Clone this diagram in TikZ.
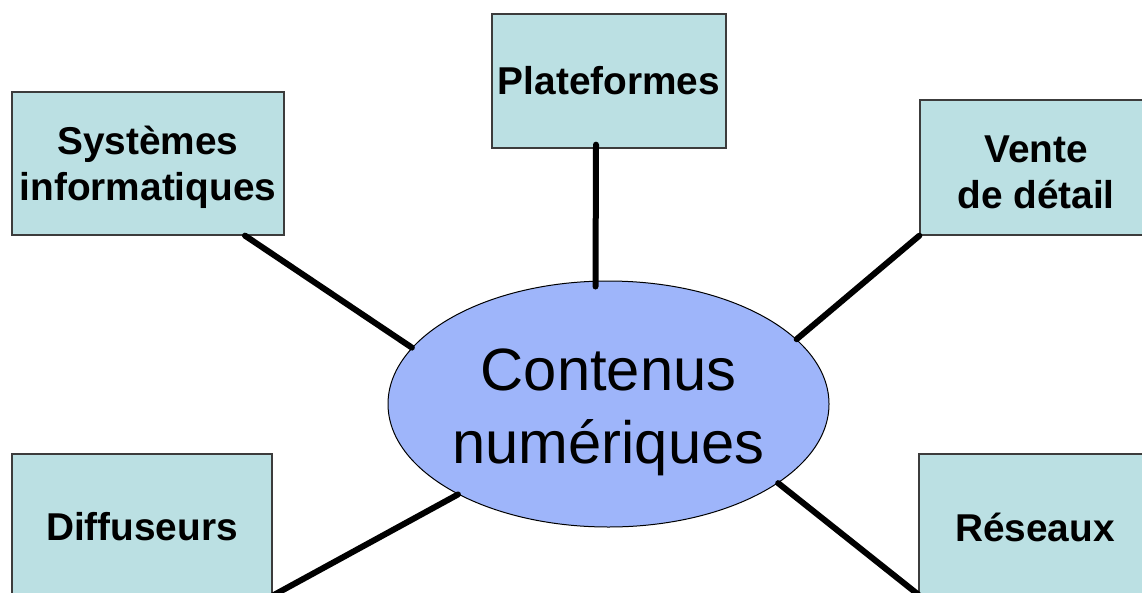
\documentclass[tikz,border=0pt]{standalone}
\usepackage{fontspec}
\setmainfont{Liberation Sans}
\usetikzlibrary{shapes.geometric}
\definecolor{boxfill}{RGB}{187,224,227}
\definecolor{boxline}{RGB}{60,60,60}
\definecolor{ellfill}{RGB}{158,181,250}
\begin{document}
\begin{tikzpicture}[x=1pt,y=-1pt,
  topic/.style={draw=boxline,line width=1.3pt,fill=boxfill,inner sep=0pt,
    align=center,font=\fontsize{38.8}{46}\selectfont\bfseries},
  link/.style={line width=6pt,line cap=round}]
\useasboundingbox (0,0) rectangle (1142,592);
\clip (0,0) rectangle (1142,592);
\node[topic,minimum width=272pt,minimum height=143pt] (sys) at (148,163.5) {\rule{0pt}{36pt}Systèmes\\informatiques};
\node[topic,minimum width=234pt,minimum height=134pt] (plat) at (609,81) {Plateformes};
\node[topic,minimum width=232pt,minimum height=135pt] (vente) at (1036,167.5) {\rule{0pt}{36pt}Vente\\de détail};
\node[topic,minimum width=260pt,minimum height=146pt] (diff) at (142,527) {Diffuseurs};
\node[topic,minimum width=232pt,minimum height=146pt] (res) at (1035,527) {Réseaux};
\node[ellipse,draw=black,line width=1pt,fill=ellfill,inner sep=0pt,
  minimum width=441pt,minimum height=246pt] (c) at (608.5,404) {};
\node[align=center,inner sep=0pt,font=\fontsize{59.7}{73}\selectfont] (ct) at (608.5,412) {Contenus\\numériques};
\draw[link] ([xshift=97pt]sys.south) -- (c.164.7);
\draw[link] ([xshift=-13pt,yshift=4pt]plat.south) -- ([xshift=-13pt,yshift=-6pt]c.north);
\draw[link] (vente.south west) -- (c.19.9);
\draw[link] (c.211.7) -- ([yshift=5pt]diff.south east);
\draw[link] (c.335.7) -- ([yshift=6pt]res.south west);
\end{tikzpicture}
\end{document}
